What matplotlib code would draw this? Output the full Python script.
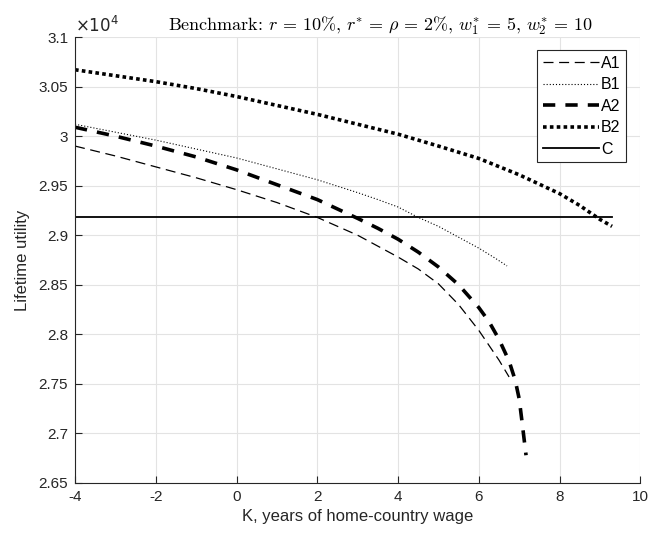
import matplotlib
matplotlib.use('Agg')
import matplotlib.pyplot as plt

plt.rcParams['font.family'] = ['Liberation Sans', 'DejaVu Sans']
plt.rcParams['mathtext.fontset'] = 'cm'
plt.rcParams['axes.unicode_minus'] = False

# valores (utilidad en unidades de 1e4)
k_a1 = [-4, -3, -2, -1, 0, 1, 2, 3, 3.5, 4, 4.5, 5, 5.5, 6, 6.25, 6.5, 6.75]
u_a1 = [2.990, 2.980, 2.969, 2.958, 2.946, 2.933, 2.918, 2.900, 2.889, 2.878,
        2.866, 2.851, 2.830, 2.804, 2.789, 2.774, 2.757]

k_b1 = [-4, -3, -2, -1, 0, 1, 2, 3, 3.5, 4, 4.5, 5, 5.5, 6, 6.4, 6.7]
u_b1 = [3.012, 3.004, 2.996, 2.987, 2.978, 2.967, 2.956, 2.943, 2.936, 2.9285,
        2.918, 2.909, 2.898, 2.887, 2.877, 2.869]

k_a2 = [-4, -3, -2, -1, 0, 1, 2, 3, 3.5, 4, 4.5, 5, 5.5, 6, 6.25, 6.5,
        6.75, 6.9, 7.0, 7.07, 7.12, 7.17]
u_a2 = [3.009, 3.000, 2.990, 2.979, 2.966, 2.951, 2.936, 2.917, 2.907, 2.896,
        2.883, 2.868, 2.850, 2.827, 2.813, 2.795, 2.773, 2.754, 2.735, 2.712,
        2.695, 2.678]

k_b2 = [-4, -3, -2, -1, 0, 1, 2, 3, 4, 5, 6, 7, 8, 8.5, 9, 9.3]
u_b2 = [3.067, 3.061, 3.055, 3.048, 3.040, 3.031, 3.022, 3.012, 3.002, 2.990,
        2.9775, 2.961, 2.942, 2.930, 2.916, 2.909]

k_c = [-4, 9.3]
u_c = [2.918, 2.918]

escala = 1e4

fig = plt.figure(figsize=(6.49, 5.37), dpi=100)
ax = fig.add_axes([0.1156, 0.1006, 0.871, 0.8304])

ax.plot(k_a1, [u * escala for u in u_a1], color='black', lw=0.9,
        dashes=(8, 4.5), dash_capstyle='butt', label='A1')
ax.plot(k_b1, [u * escala for u in u_b1], color='black', lw=0.8,
        dashes=(1, 1.8), dash_capstyle='butt', label='B1')
ax.plot(k_a2, [u * escala for u in u_a2], color='black', lw=2.6,
        dashes=(3.4, 2.8), dash_capstyle='butt', label='A2')
ax.plot(k_b2, [u * escala for u in u_b2], color='black', lw=2.6,
        dashes=(1, 0.9), dash_capstyle='butt', label='B2')
ax.plot(k_c, [u * escala for u in u_c], color='black', lw=1.3, label='C')

ax.set_xlim(-4, 10)
ax.set_ylim(2.65e4, 3.1e4)
ax.set_xticks(range(-4, 11, 2))
ax.set_yticks([v * escala for v in [2.65, 2.7, 2.75, 2.8, 2.85, 2.9, 2.95, 3.0, 3.05, 3.1]])
ax.set_yticklabels(['2.65', '2.7', '2.75', '2.8', '2.85', '2.9', '2.95', '3', '3.05', '3.1'])

ax.grid(True, color='#e3e3e3', lw=0.8)
ax.set_axisbelow(True)
for lado in ['top', 'right']:
    ax.spines[lado].set_visible(False)
for lado in ['left', 'bottom']:
    ax.spines[lado].set_color('#262626')
    ax.spines[lado].set_linewidth(0.8)
ax.tick_params(direction='in', length=5, width=0.8, colors='#262626',
               labelsize=11, pad=5)

ax.text(0.0, 1.004, r'$\times10^4$', transform=ax.transAxes, fontsize=12,
        ha='left', va='bottom', color='#262626', family='Liberation Sans',
        math_fontfamily='dejavusans')

ax.set_xlabel('K, years of home-country wage', fontsize=12, color='#262626', labelpad=4)
ax.set_ylabel('Lifetime utility', fontsize=12, color='#262626', labelpad=6)
ax.set_title(r'Benchmark: $r\,=\,10\%$, $r^{*}\,=\,\rho\,=\,2\%$, $w_1^{*}\,=\,5$, $w_2^{*}\,=\,10$',
             fontsize=13, pad=5, x=0.54, family='cmr10')

leg = ax.legend(loc='upper right', bbox_to_anchor=(0.975, 0.97), fancybox=False,
                framealpha=1, edgecolor='#262626', handlelength=3.5,
                handletextpad=0.15, labelspacing=0.4, fontsize=11.5,
                borderpad=0.35, borderaxespad=0)
leg.get_frame().set_linewidth(0.8)

fig.savefig('out.png', dpi=100)
